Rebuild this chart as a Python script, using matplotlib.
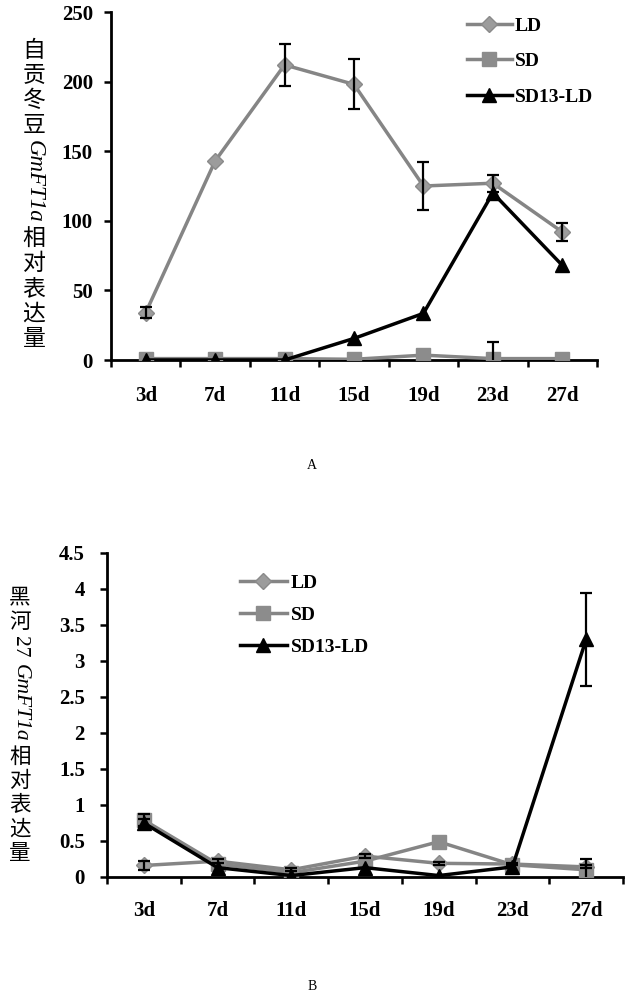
import matplotlib
matplotlib.use('Agg')
import matplotlib.pyplot as plt
import numpy as np

days = ['3d', '7d', '11d', '15d', '19d', '23d', '27d']
labels = ['LD', 'SD', 'SD13-LD']

# chart A (自贡冬豆)
a_ld = [34, 143, 212, 198, 125, 127, 92]
a_ld_err = [4, 0, 15, 18, 17, 6, 6.5]
a_sd = [1, 1, 1, 0.5, 3.5, 1, 1]
a_sd_err = [0, 0, 0, 0, 0, 12, 0]
a_sdld = [0, 0, 0, 15.5, 33.5, 120, 68]
a_sdld_err = [0, 0, 0, 0, 0, 0, 0]

# chart B (黑河27)
b_ld = [0.16, 0.22, 0.10, 0.29, 0.19, 0.18, 0.14]
b_ld_err = [0.06, 0.03, 0.02, 0.03, 0.02, 0.02, 0.02]
b_sd = [0.79, 0.18, 0.06, 0.22, 0.49, 0.17, 0.10]
b_sd_err = [0.08, 0, 0, 0, 0, 0, 0.15]
b_sdld = [0.75, 0.13, 0.02, 0.13, 0.02, 0.14, 3.3]
b_sdld_err = [0.06, 0, 0, 0, 0, 0, 0.65]

W, H = 634, 1000
SERIF = 'Liberation Serif'
CJK = 'Noto Sans CJK SC'

fig = plt.figure(figsize=(W / 100, H / 100), dpi=100)
fig.patch.set_facecolor('white')

styles = [
    dict(color='#858585', marker='D', ms=8.5, mfc='#9c9c9c', mec='#8a8a8a'),
    dict(color='#858585', marker='s', ms=9.5, mfc='#8c8c8c', mec='#8c8c8c'),
    dict(color='black', marker='^', ms=9.5, mfc='black', mec='black'),
]


def draw_panel(ax, series, errs, ymax, ystep, fmt, ypad, xpad):
    x = np.arange(len(days))
    for vals, err, st, lab in zip(series, errs, styles, labels):
        ax.plot(x, vals, lw=2.5, label=lab, zorder=3, **st)
        err = np.array(err)
        keep = err > 0
        if keep.any():
            ax.errorbar(x[keep], np.array(vals)[keep], yerr=err[keep], fmt='none',
                        ecolor='black', elinewidth=1.6, capsize=4, capthick=1.6, zorder=4)
    ax.set_xlim(-0.5, len(days) - 0.5)
    ax.set_ylim(0, ymax)
    ax.set_xticks(x)
    ax.set_xticklabels(days)
    ax.set_xticks(np.arange(-0.5, len(days), 1), minor=True)
    ax.tick_params(axis='x', which='major', length=0, pad=xpad)
    ax.tick_params(axis='x', which='minor', direction='out', length=5, width=1.8)
    yt = np.arange(0, ymax + ystep / 2, ystep)
    ax.set_yticks(yt)
    ax.set_yticklabels([fmt(v) for v in yt])
    ax.tick_params(axis='y', direction='out', length=5, width=1.8, pad=ypad)
    for lab in ax.get_xticklabels() + ax.get_yticklabels():
        lab.set_fontfamily(SERIF)
        lab.set_fontweight('bold')
        lab.set_fontsize(15)
    for s in ['top', 'right']:
        ax.spines[s].set_visible(False)
    for s in ['left', 'bottom']:
        ax.spines[s].set_linewidth(2)
    ax.patch.set_alpha(0)


def stacked_label(x, y_top, parts, size, pitch):
    # word-style vertical label: CJK upright, latin rotated
    renderer = fig.canvas.get_renderer()
    px = size * 100 / 72
    y = y_top
    for txt, kind, props in parts:
        if kind == 'cjk':
            for ch in txt:
                fig.text(x / W, 1 - (y + 0.86 * px) / H, ch, ha='center',
                         va='baseline', fontsize=size, family=CJK)
                y += px * pitch
        else:
            t = fig.text(x / W, 1 - (y + 3) / H, txt, ha='center', va='top',
                         rotation=-90, fontsize=size, family=SERIF, **props)
            y += t.get_window_extent(renderer).height + 6


# panel A
ax1 = fig.add_axes([111 / W, 1 - 360 / H, 486 / W, 348 / H])
draw_panel(ax1, [a_ld, a_sd, a_sdld], [a_ld_err, a_sd_err, a_sdld_err],
           250, 50, lambda v: '%d' % v, 8, 19)
ax1.legend(loc='upper left', bbox_to_anchor=(467 / W, 1 - 17 / H),
           bbox_transform=fig.transFigure, frameon=False, numpoints=1,
           handlelength=2.3, handletextpad=0.15, labelspacing=0.93,
           borderpad=0, borderaxespad=0,
           prop=dict(family=SERIF, weight='bold', size=14))
stacked_label(34, 37, [('自贡冬豆', 'cjk', {}),
                       ('GmFT1a', 'rot', dict(style='italic')),
                       ('相对表达量', 'cjk', {})], 16.5, 1.09)
fig.text(312 / W, 1 - 465 / H, 'A', ha='center', va='center',
         fontsize=10, family=SERIF)

# panel B
ax2 = fig.add_axes([107 / W, 1 - 877 / H, 516 / W, 324 / H])
draw_panel(ax2, [b_ld, b_sd, b_sdld], [b_ld_err, b_sd_err, b_sdld_err],
           4.5, 0.5, lambda v: '%g' % v, 11, 17)
ax2.legend(loc='upper left', bbox_to_anchor=(240 / W, 1 - 574 / H),
           bbox_transform=fig.transFigure, frameon=False, numpoints=1,
           handlelength=2.4, handletextpad=0.2, labelspacing=0.75,
           borderpad=0, borderaxespad=0,
           prop=dict(family=SERIF, weight='bold', size=14))
stacked_label(20, 585, [('黑河', 'cjk', {}),
                        ('27', 'rot', {}),
                        ('GmFT1a', 'rot', dict(style='italic')),
                        ('相对表达量', 'cjk', {})], 15.5, 1.12)
fig.text(312 / W, 1 - 987 / H, 'B', ha='center', va='center',
         fontsize=10, family=SERIF)

fig.savefig('out.png', dpi=100)
